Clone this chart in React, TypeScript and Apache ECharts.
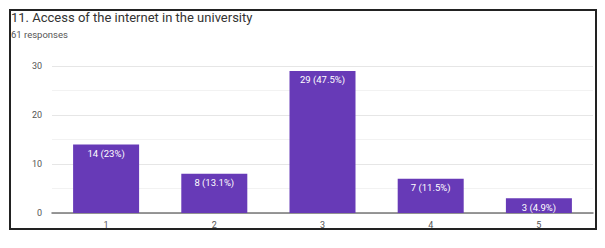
import React, { useEffect, useRef } from "react";
import * as echarts from "echarts";

const categories = ["1", "2", "3", "4", "5"];
const counts = [14, 8, 29, 7, 3];
const percents = ["23%", "13.1%", "47.5%", "11.5%", "4.9%"];
const yTicks = [0, 10, 20, 30];
const titleText = "11. Access of the internet in the university";
const subtitleText = "61 responses";

export default function App() {
  const ref = useRef<HTMLDivElement>(null);
  useEffect(() => {
    if (!ref.current) return;
    const chart = echarts.init(ref.current, null, { renderer: "svg" });
    chart.setOption({
      animation: false,
      backgroundColor: "#ffffff",
      grid: { left: 52, right: 12, top: 66, bottom: 35 },
      xAxis: {
        type: "category",
        data: categories,
        axisLine: { lineStyle: { color: "#777", width: 1.5 } },
        axisTick: { show: false },
        axisLabel: { color: "#555", fontSize: 9, fontFamily: "Roboto", margin: 7 },
      },
      yAxis: {
        type: "value",
        min: yTicks[0],
        max: yTicks[yTicks.length - 1],
        interval: 10,
        axisLabel: { color: "#555", fontSize: 9, fontFamily: "Roboto", margin: 10 },
        splitLine: { lineStyle: { color: "#e6e6e6" } },
        minorTick: { show: false, splitNumber: 2 },
        minorSplitLine: { show: true, lineStyle: { color: "#f2f2f2" } },
      },
      series: [
        {
          type: "bar",
          data: counts,
          barWidth: "61%",
          itemStyle: { color: "#673ab7" },
          label: {
            show: true,
            position: "insideTop",
            distance: 4,
            color: "#fff",
            fontSize: 9.5,
            fontFamily: "Roboto",
            formatter: (p: any) => `${p.value} (${percents[p.dataIndex]})`,
          },
        },
      ],
      graphic: [
        {
          type: "rect",
          shape: { x: 10, y: 10, width: 586, height: 219 },
          style: { fill: "none", stroke: "#222", lineWidth: 2 },
          z: 100,
        },
        {
          type: "text",
          x: 11,
          y: 11,
          style: { text: titleText, fill: "#333", fontSize: 13, fontFamily: "Roboto" },
          z: 101,
        },
        {
          type: "text",
          x: 11,
          y: 29,
          style: { text: subtitleText, fill: "#555", fontSize: 9.5, fontFamily: "Roboto" },
          z: 101,
        },
      ],
    });
    return () => chart.dispose();
  }, []);
  return (
    <div
      ref={ref}
      style={{ position: "absolute", left: 0, top: 0, width: 605, height: 248 }}
    />
  );
}
